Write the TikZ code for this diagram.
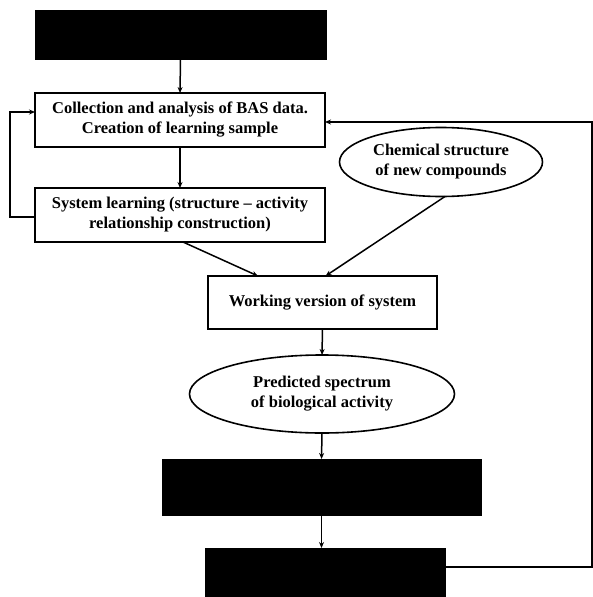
\documentclass[tikz,border=0pt]{standalone}
\usepackage{fontspec}
\setmainfont{Liberation Serif}
\usetikzlibrary{arrows.meta,shapes.geometric}
\begin{document}
\begin{tikzpicture}[x=1pt,y=-1pt,
  every node/.style={inner sep=0pt,outer sep=0pt},
  wbox/.style={draw=black,line width=1.6pt,fill=white,rectangle,align=center,
    font=\bfseries\fontsize{16.5}{20}\selectfont},
  bbox/.style={draw=black,fill=black,rectangle},
  oval/.style={draw=black,line width=1.6pt,ellipse,align=center,
    font=\bfseries\fontsize{16.5}{20}\selectfont},
  conn/.style={line width=1.5pt,-{Stealth[length=6pt,width=5pt]}},
  line/.style={line width=1.5pt}]
\useasboundingbox (0,0) rectangle (593,597);
\node[bbox,minimum width=291pt,minimum height=49pt] (top) at (180.5,34.5) {};
\node[wbox,minimum width=290pt,minimum height=54pt] (box1) at (180,120)
  {Collection and analysis of BAS data.\\Creation of learning sample};
\node[wbox,minimum width=290pt,minimum height=54pt] (box2) at (180,215)
  {System learning (structure -- activity\\relationship construction)};
\node[oval,minimum width=203pt,minimum height=69pt] (chem) at (441,162)
  {Chemical structure\\of new compounds};
\node[wbox,minimum width=229pt,minimum height=53pt] (work) at (322.5,302.5)
  {Working version of system};
\node[oval,minimum width=265pt,minimum height=78pt] (pred) at (322,394)
  {Predicted spectrum\\of biological activity};
\node[bbox,minimum width=319pt,minimum height=56pt] (exp) at (321.5,487) {};
\node[bbox,minimum width=240pt,minimum height=50pt] (info) at (325,573) {};
\coordinate (R) at (592,0);
\coordinate (L) at (10,0);
\draw[conn] (top.south) -- (box1.north);
\draw[conn] (box1.south) -- (box2.north);
\draw[conn] ([xshift=3pt]box2.south) -- ([xshift=-64.5pt]work.north);
\draw[conn] ([xshift=4pt]chem.south) -- ([xshift=3pt]work.north);
\draw[conn] (work.south) -- (pred.north);
\draw[conn] (pred.south) -- (exp.north);
\draw[conn] (exp.south) -- (exp.south |- info.north);
\draw[conn] ([yshift=-2pt]box2.west) -- ([yshift=-2pt]box2.west -| L) |- ([yshift=8pt]box1.west);
\draw[conn] ([yshift=6pt]info.east) -- ([yshift=6pt]info.east -| R) |- ([yshift=-2pt]box1.east);
\end{tikzpicture}
\end{document}
